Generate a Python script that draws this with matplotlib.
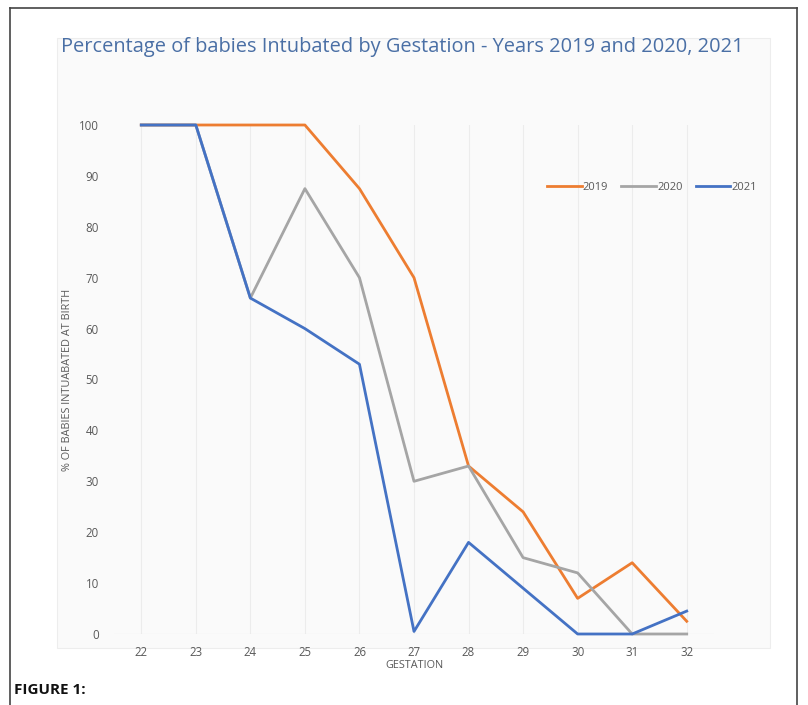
import matplotlib.pyplot as plt
from matplotlib.patches import Rectangle
from matplotlib.lines import Line2D

gestation = [22, 23, 24, 25, 26, 27, 28, 29, 30, 31, 32]
y2019 = [100, 100, 100, 100, 87.5, 70, 33, 24, 7, 14, 2.5]
y2020 = [100, 100, 66, 87.5, 70, 30, 33, 15, 12, 0, 0]
y2021 = [100, 100, 66, 60, 53, 0.5, 18, 9, 0, 0, 4.5]
years = ['2019', '2020', '2021']
colors = ['#ED7D31', '#A5A5A5', '#4472C4']

plt.rcParams['font.family'] = ['Open Sans', 'DejaVu Sans']

fig = plt.figure(figsize=(8.08, 7.05), dpi=100)

# outer frame (left, top, right)
W, H = 808, 705
fig.add_artist(Line2D([10/W, 10/W], [0, 1 - 8/H], color='#444444', lw=1.2))
fig.add_artist(Line2D([10/W, 797/W], [1 - 8/H, 1 - 8/H], color='#444444', lw=1.2))
fig.add_artist(Line2D([797/W, 797/W], [0, 1 - 8/H], color='#444444', lw=1.2))

# faint chart background
fig.add_artist(Rectangle((57/W, 1 - 648/H), 713/W, 610/H, facecolor='#fafafa',
                         edgecolor='#ededed', lw=0.8, zorder=0))

ax = fig.add_axes([114/W, 1 - 634/H, 600/W, 509/H])
ax.set_facecolor('none')
for s in ax.spines.values():
    s.set_visible(False)

for yr, vals, c in zip(years, [y2019, y2020, y2021], colors):
    ax.plot(gestation, vals, color=c, lw=2.0, label=yr, clip_on=False, zorder=3)

ax.set_xlim(21.5, 32.5)
ax.set_ylim(0, 100)
ax.set_xticks(gestation)
ax.set_yticks(range(0, 101, 10))
for g in gestation:
    ax.axvline(g, color='#ececec', lw=0.8, zorder=1)
ax.axhline(0, color='#e6e6e6', lw=0.8, zorder=1)
ax.tick_params(length=0, labelsize=8.3, labelcolor='#595959', pad=9)
ax.tick_params(axis='y', pad=11)

ax.set_xlabel('GESTATION', fontsize=7.8, color='#595959', labelpad=0)
ax.set_ylabel('% OF BABIES INTUABATED AT BIRTH', fontsize=7.8, color='#595959', labelpad=4)

fig.text(0.4975, 1 - 47/H, 'Percentage of babies Intubated by Gestation - Years 2019 and 2020, 2021',
         ha='center', va='center', fontsize=14.4, color='#4a6fa5')

fig.legend(loc='center', bbox_to_anchor=(652/W, 1 - 187/H), ncol=3, frameon=False,
           fontsize=8, labelcolor='#595959', handlelength=3.1, handletextpad=0.1,
           columnspacing=1.2)

fig.text(14/W, 1 - 690/H, 'FIGURE 1:', fontsize=11, fontweight='bold', color='#111111',
         va='center', ha='left')

fig.savefig('out.png', dpi=100)
